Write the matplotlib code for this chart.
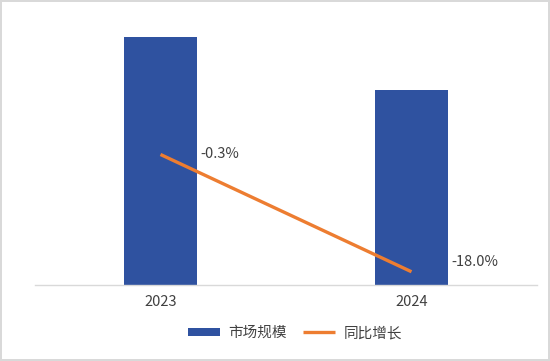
import numpy as np
import matplotlib.pyplot as plt

plt.rcParams['font.family'] = ['Noto Sans CJK SC', 'DejaVu Sans']

# data
years = ['2023', '2024']
market_size = [248, 195]        # relative bar heights (no axis shown)
growth = [-0.3, -18.0]          # year-on-year growth, %
growth_labels = ['-0.3%', '-18.0%']

blue = '#2F52A0'
orange = '#ED7D31'
txt = '#404040'

fig = plt.figure(figsize=(5.5, 3.61), dpi=100)
fig.patch.set_edgecolor('#D9D9D9')
fig.patch.set_linewidth(1.5)

ax = fig.add_axes([35/550, 1-285/361, 502/550, 265/361])
x = np.arange(len(years))
width = 0.287
ax.bar(x, market_size, width, color=blue, label='市场规模', zorder=2)
ax.set_xlim(-0.5, 1.5)
ax.set_ylim(0, 265)
ax.set_yticks([])
for s in ['top', 'right', 'left']:
    ax.spines[s].set_visible(False)
ax.spines['bottom'].set_color('#D9D9D9')
ax.spines['bottom'].set_linewidth(1)
ax.set_xticks(x)
ax.set_xticklabels(years, fontsize=10.5, color=txt)
ax.tick_params(axis='x', length=0, pad=7)

ax2 = ax.twinx()
ax2.plot(x, growth, color=orange, lw=2.4, label='同比增长', zorder=3,
         solid_capstyle='butt')
ax2.set_ylim(-20, 20)
ax2.set_yticks([])
for s in ['top', 'right', 'left', 'bottom']:
    ax2.spines[s].set_visible(False)

offsets = [(3, 0), (2.5, 7)]
for i in range(len(years)):
    ax2.annotate(growth_labels[i], (x[i] + width/2, growth[i]),
                 xytext=offsets[i], textcoords='offset points',
                 ha='left', va='center', fontsize=10.5, color=txt)

h1, l1 = ax.get_legend_handles_labels()
h2, l2 = ax2.get_legend_handles_labels()
fig.legend(h1 + h2, l1 + l2, loc='center', bbox_to_anchor=(295/550, 1-333/361),
           ncol=2, frameon=False, fontsize=10.5, labelcolor=txt,
           handlelength=2.2, handleheight=0.45, columnspacing=1.1, handletextpad=0.6)

fig.savefig('out.png', dpi=100)
